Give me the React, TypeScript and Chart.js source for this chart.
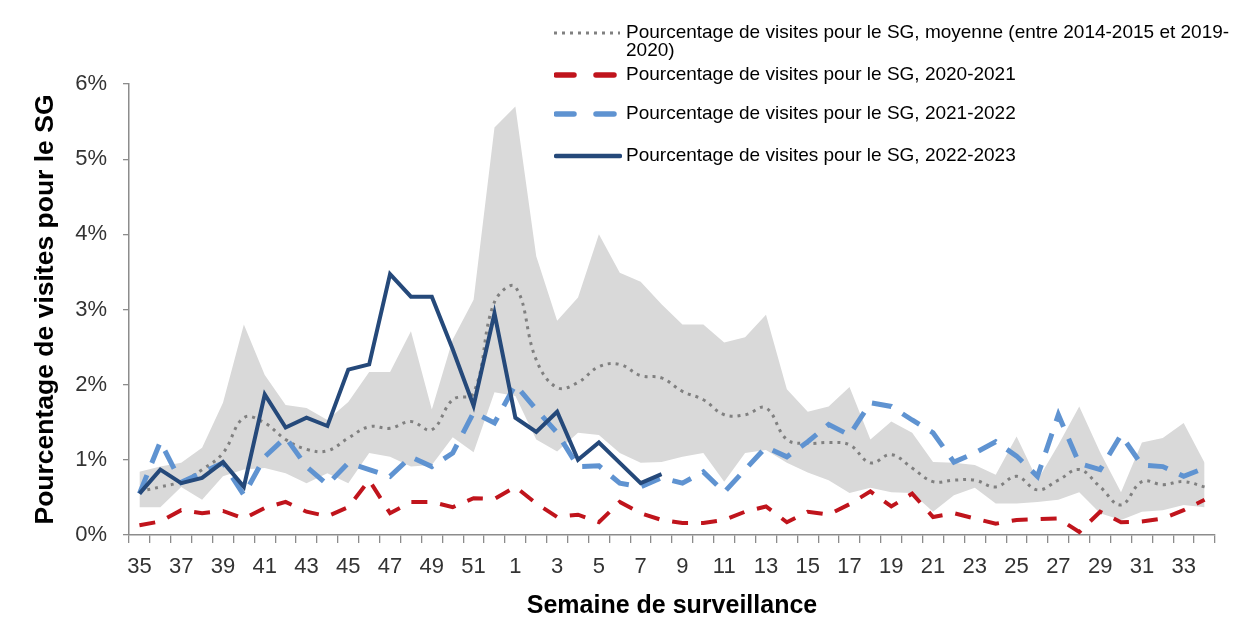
import React, { useEffect, useRef } from 'react';
import { Chart, registerables } from 'chart.js';

Chart.register(...registerables);

const weeks: string[] = [
  '35', '36', '37', '38', '39', '40', '41', '42', '43', '44', '45', '46', '47', '48', '49', '50', '51', '52',
  '1', '2', '3', '4', '5', '6', '7', '8', '9', '10', '11', '12', '13', '14', '15', '16', '17', '18', '19', '20',
  '21', '22', '23', '24', '25', '26', '27', '28', '29', '30', '31', '32', '33', '34',
];

const yTicks: number[] = [0, 1, 2, 3, 4, 5, 6];

const season2022: (number | null)[] = [
  0.55, 0.87, 0.69, 0.76, 0.97, 0.64, 1.87, 1.43, 1.56, 1.45, 2.2, 2.27, 3.47, 3.17, 3.17, 2.47, 1.72, 2.95,
  1.56, 1.37, 1.64, 1.0, 1.23, 0.96, 0.69, 0.81, null, null, null, null, null, null, null, null, null, null,
  null, null, null, null, null, null, null, null, null, null, null, null, null, null, null, null,
];

const season2021: number[] = [
  0.55, 1.24, 0.7, 0.83, 0.96, 0.53, 1.04, 1.3, 0.91, 0.67, 0.96, 0.87, 0.78, 1.04, 0.91, 1.09, 1.63, 1.49,
  2.0, 1.67, 1.36, 0.91, 0.92, 0.69, 0.64, 0.76, 0.69, 0.84, 0.57, 0.87, 1.17, 1.04, 1.24, 1.47, 1.33, 1.76,
  1.71, 1.53, 1.36, 0.97, 1.09, 1.24, 1.05, 0.78, 1.6, 0.95, 0.87, 1.33, 0.93, 0.91, 0.78, 0.89,
];

const season2020: number[] = [
  0.13, 0.18, 0.33, 0.29, 0.32, 0.22, 0.36, 0.44, 0.31, 0.25, 0.37, 0.73, 0.29, 0.44, 0.44, 0.37, 0.49, 0.48,
  0.64, 0.42, 0.24, 0.27, 0.17, 0.44, 0.29, 0.2, 0.16, 0.16, 0.2, 0.31, 0.38, 0.17, 0.31, 0.27, 0.41, 0.58,
  0.38, 0.55, 0.24, 0.29, 0.22, 0.15, 0.2, 0.21, 0.22, 0.04, 0.31, 0.17, 0.18, 0.22, 0.33, 0.47,
];

const averageSeason: number[] = [
  0.58, 0.64, 0.71, 0.87, 1.09, 1.56, 1.49, 1.27, 1.14, 1.12, 1.29, 1.44, 1.42, 1.51, 1.4, 1.8, 1.89, 3.1,
  3.3, 2.33, 1.96, 2.03, 2.24, 2.27, 2.12, 2.09, 1.91, 1.8, 1.6, 1.6, 1.69, 1.27, 1.22, 1.23, 1.2, 0.96,
  1.07, 0.89, 0.71, 0.73, 0.73, 0.64, 0.78, 0.6, 0.73, 0.87, 0.64, 0.4, 0.71, 0.67, 0.71, 0.64,
];

const rangeMax: number[] = [
  0.84, 0.91, 0.96, 1.16, 1.76, 2.8, 2.13, 1.73, 1.69, 1.53, 1.77, 2.17, 2.17, 2.71, 1.67, 2.6, 3.13, 5.42,
  5.7, 3.71, 2.85, 3.16, 4.0, 3.49, 3.37, 3.07, 2.8, 2.8, 2.56, 2.63, 2.93, 1.94, 1.64, 1.71, 1.97, 1.27,
  1.51, 1.36, 0.97, 0.96, 0.93, 0.8, 1.31, 0.73, 1.2, 1.71, 1.1, 0.57, 1.23, 1.29, 1.49, 0.96,
];

const rangeMin: number[] = [
  0.37, 0.37, 0.64, 0.47, 0.78, 0.87, 0.89, 0.82, 0.69, 0.82, 0.69, 1.09, 1.04, 0.91, 0.93, 1.3, 1.1, 1.9,
  1.85, 1.27, 1.11, 1.36, 1.33, 1.09, 0.96, 0.97, 1.04, 1.09, 0.71, 1.09, 1.13, 0.96, 0.83, 0.73, 0.56, 0.63,
  0.57, 0.56, 0.31, 0.53, 0.63, 0.42, 0.42, 0.44, 0.47, 0.57, 0.29, 0.2, 0.31, 0.33, 0.4, 0.37,
];

const legendLabels: string[] = [
  'Pourcentage de visites pour le SG, moyenne (entre 2014-2015 et 2019-2020)',
  'Pourcentage de visites pour le SG, 2020-2021',
  'Pourcentage de visites pour le SG, 2021-2022',
  'Pourcentage de visites pour le SG, 2022-2023',
];

const FONT = '"Liberation Sans", Arial, sans-serif';
const NAVY = '#25497a';
const LIGHT_BLUE = '#5f93d1';
const RED = '#c0141c';
const DOT_GRAY = '#808080';
const BAND = '#d9d9d9';
const AXIS = '#8c8c8c';

function LegendSample({ kind }: { kind: number }) {
  if (kind === 0) {
    return (
      <svg width={68} height={10} style={{ display: 'block' }}>
        <line x1={0} y1={5} x2={66} y2={5} stroke={DOT_GRAY} strokeWidth={3} strokeDasharray="3 5" />
      </svg>
    );
  }
  if (kind === 1 || kind === 2) {
    return (
      <svg width={68} height={10} style={{ display: 'block' }}>
        <line x1={2} y1={5} x2={62} y2={5} stroke={kind === 1 ? RED : LIGHT_BLUE} strokeWidth={5.5} strokeDasharray="18 22" strokeLinecap="round" />
      </svg>
    );
  }
  return (
    <svg width={68} height={10} style={{ display: 'block' }}>
      <line x1={2} y1={5} x2={66} y2={5} stroke={NAVY} strokeWidth={4.5} strokeLinecap="round" />
    </svg>
  );
}

export default function App() {
  const ref = useRef<HTMLCanvasElement>(null);

  useEffect(() => {
    document.body.style.margin = '0';
    const canvas = ref.current;
    if (!canvas) return;
    const chart = new Chart(canvas, {
      type: 'line',
      data: {
        labels: weeks,
        datasets: [
          {
            label: legendLabels[3],
            data: season2022,
            borderColor: NAVY,
            borderWidth: 4,
            pointRadius: 0,
            tension: 0,
            fill: false,
            spanGaps: false,
          },
          {
            label: legendLabels[2],
            data: season2021,
            borderColor: LIGHT_BLUE,
            borderWidth: 5,
            borderDash: [20, 13],
            pointRadius: 0,
            tension: 0,
            fill: false,
          },
          {
            label: legendLabels[1],
            data: season2020,
            borderColor: RED,
            borderWidth: 4,
            borderDash: [16, 13],
            pointRadius: 0,
            tension: 0,
            fill: false,
          },
          {
            label: legendLabels[0],
            data: averageSeason,
            borderColor: DOT_GRAY,
            borderWidth: 3,
            borderDash: [3, 5],
            pointRadius: 0,
            tension: 0.4,
            fill: false,
          },
          {
            label: 'max',
            data: rangeMax,
            borderColor: BAND,
            borderWidth: 0,
            backgroundColor: BAND,
            pointRadius: 0,
            tension: 0,
            fill: '+1',
          },
          {
            label: 'min',
            data: rangeMin,
            borderColor: BAND,
            borderWidth: 0,
            backgroundColor: BAND,
            pointRadius: 0,
            tension: 0,
            fill: false,
          },
        ],
      },
      options: {
        responsive: false,
        animation: false,
        events: [],
        layout: { padding: { top: 84, right: 33, left: 0, bottom: 0 } },
        plugins: {
          legend: { display: false },
          tooltip: { enabled: false },
        },
        scales: {
          x: {
            type: 'category',
            offset: true,
            grid: {
              display: true,
              drawOnChartArea: false,
              drawTicks: true,
              tickLength: 8,
              offset: true,
              color: AXIS,
              lineWidth: 1.3,
            },
            border: { display: true, color: AXIS, width: 1.5 },
            ticks: {
              autoSkip: false,
              maxRotation: 0,
              minRotation: 0,
              padding: 11,
              color: '#333333',
              font: { family: FONT, size: 22 },
              callback: (_v: any, i: number) => (i % 2 === 0 ? weeks[i] : ''),
            },
            title: {
              display: true,
              text: 'Semaine de surveillance',
              color: '#000000',
              font: { family: FONT, size: 25, weight: 'bold' },
              padding: { top: 0, bottom: 1 },
            },
            afterFit: (s: any) => {
              s.height = 622 - 535;
            },
          },
          y: {
            min: 0,
            max: 6,
            afterBuildTicks: (s: any) => {
              s.ticks = yTicks.map((v) => ({ value: v }));
            },
            grid: {
              display: true,
              drawOnChartArea: false,
              drawTicks: true,
              tickLength: 6,
              color: AXIS,
              lineWidth: 1.3,
            },
            border: { display: true, color: AXIS, width: 1.5 },
            ticks: {
              padding: 16,
              color: '#333333',
              font: { family: FONT, size: 22 },
              callback: (v: any) => `${v}%`,
            },
            title: {
              display: true,
              text: 'Pourcentage de visites pour le SG',
              color: '#000000',
              font: { family: FONT, size: 26.5, weight: 'bold' },
              padding: { top: 30, bottom: 0 },
            },
            afterFit: (s: any) => {
              s.width = 129;
            },
          },
        },
      },
    });
    return () => chart.destroy();
  }, []);

  const rows = [
    { y: 33, lines: ['Pourcentage de visites pour le SG, moyenne (entre 2014-2015 et 2019-', '2020)'] },
    { y: 75, lines: [legendLabels[1]] },
    { y: 114, lines: [legendLabels[2]] },
    { y: 156, lines: [legendLabels[3]] },
  ];

  return (
    <div style={{ position: 'relative', width: 1248, height: 622, background: '#ffffff' }}>
      <canvas ref={ref} width={1248} height={622} style={{ display: 'block', width: 1248, height: 622 }} />
      {rows.map((r, k) => (
        <React.Fragment key={k}>
          <div style={{ position: 'absolute', left: 554, top: r.y - 5 }}>
            <LegendSample kind={k} />
          </div>
          <div
            style={{
              position: 'absolute',
              left: 626,
              top: r.y - 10,
              fontFamily: FONT,
              fontSize: 19,
              lineHeight: '18px',
              color: '#000000',
              whiteSpace: 'nowrap',
            }}
          >
            {r.lines.map((t, j) => (
              <div key={j}>{t}</div>
            ))}
          </div>
        </React.Fragment>
      ))}
    </div>
  );
}
